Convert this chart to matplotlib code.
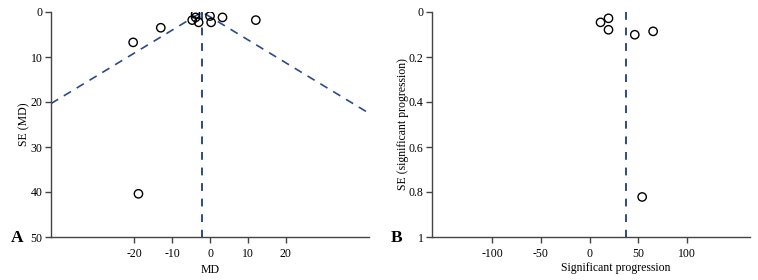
import matplotlib
matplotlib.use("Agg")
import matplotlib.pyplot as plt

plt.rcParams["font.family"] = ["Liberation Serif", "DejaVu Serif"]
plt.rcParams["font.size"] = 8.5
plt.rcParams["axes.unicode_minus"] = False

# Panel A: MD funnel plot
md_x = [-20.3, -13.0, -3.8, -3.8, -4.7, -3.0, 0.0, 0.3, 3.3, 12.1, -18.9]
md_se = [6.75, 3.5, 0.45, 1.2, 1.8, 2.3, 0.9, 2.3, 1.2, 1.8, 40.4]
md_pooled = -2.1
md_ticks_x = [-20, -10, 0, 10, 20]
md_ticks_y = [0, 10, 20, 30, 40, 50]

# Panel B: significant progression funnel plot
sp_x = [11.3, 19.5, 19.5, 46.5, 65.4, 54.1]
sp_se = [0.046, 0.028, 0.079, 0.101, 0.086, 0.822]
sp_pooled = 37
sp_ticks_x = [-100, -50, 0, 50, 100]
sp_ticks_y = [0, 0.2, 0.4, 0.6, 0.8, 1]
sp_tick_labels_y = ["0", "0.2", "0.4", "0.6", "0.8", "1"]

dash_col = "#2c4a8c"
spine_col = "#444444"

fig = plt.figure(figsize=(7.58, 2.8), dpi=100)
axA = fig.add_axes([51 / 758, 43 / 280, 318 / 758, 225 / 280])
axB = fig.add_axes([432 / 758, 43 / 280, 318 / 758, 225 / 280])


def style(ax):
    for s in ["top", "right"]:
        ax.spines[s].set_visible(False)
    for s in ["left", "bottom"]:
        ax.spines[s].set_color(spine_col)
        ax.spines[s].set_linewidth(1.0)
    ax.tick_params(direction="out", length=4, width=1, color=spine_col,
                   labelsize=8.5, pad=2)
    ax.tick_params(axis="x", pad=4)


# ---- A ----
style(axA)
axA.set_xlim(-42, 42)
axA.set_ylim(50, 0)
z = 1.96
se_l = (md_pooled + 42) / z
se_r = (42 - md_pooled) / z
axA.plot([-42, md_pooled, 42], [se_l, 0, se_r], ls=(0, (5, 4)), color=dash_col, lw=1.2)
axA.plot([md_pooled, md_pooled], [0, 50], ls=(0, (4, 4)), color=dash_col, lw=1.4)
axA.scatter(md_x, md_se, s=36, facecolors="none", edgecolors="black", linewidths=1, zorder=3)
axA.set_xticks(md_ticks_x)
axA.set_yticks(md_ticks_y)
axA.set_xlabel("MD", fontsize=8.5, labelpad=3)
axA.set_ylabel("SE (MD)", fontsize=8.5, labelpad=0)
fig.text(11 / 758, 1 - 238 / 280, "A", fontsize=12.5, fontweight="bold", va="center")

# ---- B ----
style(axB)
axB.set_xlim(-162, 165)
axB.set_ylim(1, 0)
axB.plot([sp_pooled, sp_pooled], [0, 1], ls=(0, (4, 4)), color=dash_col, lw=1.4)
axB.scatter(sp_x, sp_se, s=36, facecolors="none", edgecolors="black", linewidths=1, zorder=3)
axB.set_xticks(sp_ticks_x)
axB.set_yticks(sp_ticks_y)
axB.set_yticklabels(sp_tick_labels_y)
axB.set_xlabel("Significant progression", fontsize=8.5)
axB.xaxis.set_label_coords(0.578, -0.11)
axB.set_ylabel("SE (significant progression)", fontsize=8.5, labelpad=0)
fig.text(391 / 758, 1 - 238 / 280, "B", fontsize=12.5, fontweight="bold", va="center")

fig.savefig("out.png", dpi=100)
